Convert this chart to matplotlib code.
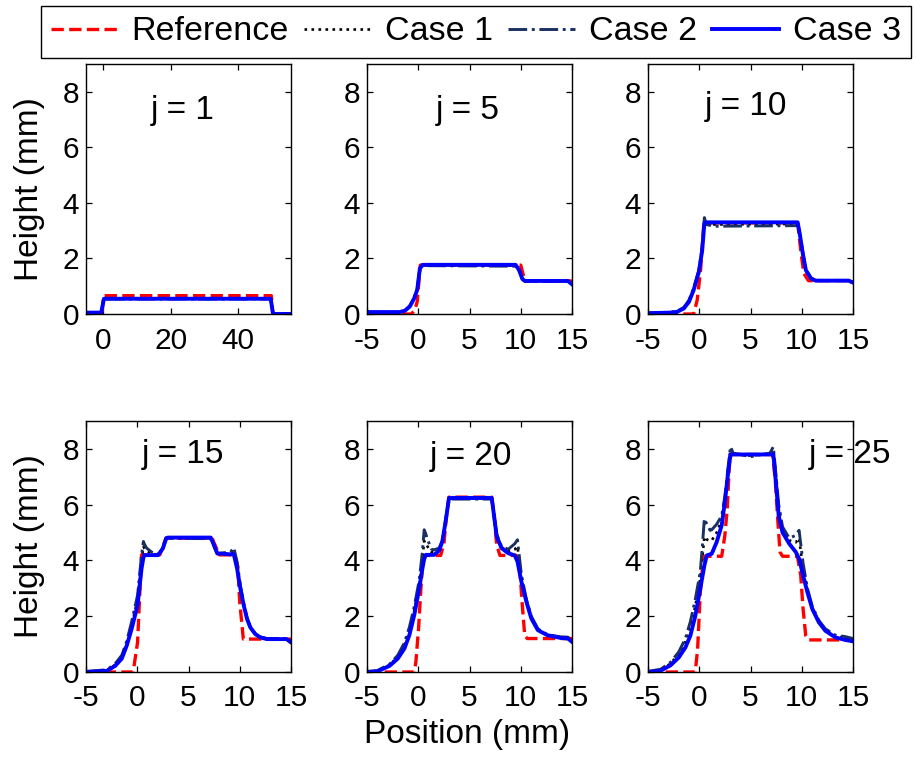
import matplotlib
matplotlib.use("Agg")
import matplotlib.pyplot as plt
from matplotlib.lines import Line2D

plt.rcParams['font.family'] = ['Liberation Sans', 'DejaVu Sans']
plt.rcParams['axes.unicode_minus'] = False

# ---- data: layer height profiles (mm) vs position (mm) ----
series_names = ["Reference", "Case 1", "Case 2", "Case 3"]
layer_labels = ["j = 1", "j = 5", "j = 10", "j = 15", "j = 20", "j = 25"]

# j = 1
j1_ref_x = [-5, -0.3, 0.2, 49.8, 50.2, 55.5]
j1_ref_y = [0.0, 0.0, 0.66, 0.66, 0.0, 0.0]
j1_case_x = [-5, -0.5, 0.3, 49.6, 50.3, 55.5]
j1_c1_y = [0.05, 0.05, 0.55, 0.55, 0.0, 0.0]
j1_c2_y = [0.05, 0.05, 0.54, 0.54, 0.0, 0.0]
j1_c3_y = [0.05, 0.05, 0.55, 0.55, 0.0, 0.0]

# j = 5
j5_ref_x = [-5, -0.66, -0.33, -0.1, 0.2, 10.0, 10.4, 15]
j5_ref_y = [0, 0, 0.15, 0.45, 1.76, 1.76, 1.19, 1.19]
j5_case_x = [-5, -1.8, -1.3, -0.82, -0.39, -0.1, 0.16, 0.43, 9.5, 9.84, 10.16, 10.4, 14.6, 15]
j5_c1_y = [0.06, 0.06, 0.12, 0.28, 0.58, 0.88, 1.65, 1.76, 1.74, 1.57, 1.26, 1.19, 1.19, 1.08]
j5_c2_y = [0.06, 0.06, 0.12, 0.30, 0.60, 0.90, 1.66, 1.74, 1.72, 1.56, 1.25, 1.18, 1.18, 1.08]
j5_c3_y = [0.07, 0.07, 0.12, 0.27, 0.57, 0.87, 1.64, 1.77, 1.77, 1.58, 1.26, 1.19, 1.19, 1.07]

# j = 10
j10_ref_x = [-5, -0.55, -0.2, 0.13, 0.45, 9.6, 9.9, 10.2, 10.65, 15]
j10_ref_y = [0, 0, 0.5, 1.58, 3.28, 3.28, 2.3, 1.46, 1.2, 1.2]
j10_case_x = [-5, -2.8, -2.15, -1.5, -1.0, -0.55, -0.03, 0.29, 0.5, 0.7, 1.5, 9.4, 9.6, 9.8,
              10.1, 10.4, 10.9, 11.35, 14.57, 15]
j10_c1_y = [0.03, 0.05, 0.09, 0.22, 0.47, 0.89, 1.56, 2.35, 3.40, 3.27, 3.22, 3.24, 3.26, 2.92,
            2.20, 1.59, 1.29, 1.20, 1.20, 1.13]
j10_c2_y = [0.03, 0.06, 0.10, 0.24, 0.50, 0.92, 1.60, 2.40, 3.47, 3.22, 3.16, 3.18, 3.22, 2.95,
            2.22, 1.60, 1.30, 1.21, 1.21, 1.14]
j10_c3_y = [0.03, 0.05, 0.08, 0.20, 0.44, 0.86, 1.52, 2.30, 3.26, 3.30, 3.30, 3.30, 3.30, 2.90,
            2.18, 1.58, 1.28, 1.20, 1.20, 1.13]

# j = 15
j15_ref_x = [-5, -0.4, 0.03, 0.42, 2.2, 2.8, 7.3, 8.0, 9.5, 9.8, 10.0, 10.35, 15]
j15_ref_y = [0, 0, 1.06, 4.2, 4.2, 4.8, 4.8, 4.2, 4.2, 3.8, 2.5, 1.18, 1.18]
j15_case_x = [-5, -2.96, -2.15, -1.51, -1.03, -0.55, 0.03, 0.42, 0.6, 0.68, 0.9, 1.4, 2.03, 2.5,
              2.83, 3.0, 7.17, 7.49, 7.81, 9.1, 9.42, 9.74, 10.06, 10.39, 10.71, 11.03, 11.51,
              12.0, 12.64, 14.57, 15]
j15_c1_y = [0.01, 0.06, 0.26, 0.55, 1.02, 1.68, 2.6, 4.0, 4.5, 4.45, 4.35, 4.25, 4.2, 4.44, 4.79,
            4.81, 4.8, 4.52, 4.24, 4.26, 4.35, 3.85, 3.05, 2.42, 1.92, 1.61, 1.37, 1.25, 1.19,
            1.19, 1.08]
j15_c2_y = [0.02, 0.08, 0.3, 0.6, 1.1, 1.8, 2.75, 4.2, 4.68, 4.6, 4.45, 4.3, 4.22, 4.45, 4.78,
            4.8, 4.78, 4.5, 4.25, 4.3, 4.46, 3.95, 3.1, 2.45, 1.95, 1.62, 1.38, 1.26, 1.2, 1.2, 1.1]
j15_c3_y = [0.0, 0.04, 0.22, 0.48, 0.94, 1.54, 2.39, 3.71, 4.1, 4.19, 4.19, 4.19, 4.19, 4.43, 4.8,
            4.82, 4.82, 4.55, 4.25, 4.22, 4.22, 3.71, 2.99, 2.39, 1.9, 1.6, 1.36, 1.24, 1.18,
            1.18, 1.06]

# j = 20
j20_ref_x = [-5, -0.39, -0.23, 0.03, 0.26, 0.48, 2.19, 2.51, 2.73, 2.99, 7.17, 7.43, 7.65, 7.97,
             9.58, 9.9, 10.13, 10.39, 10.64, 15]
j20_ref_y = [0, 0, 0.36, 1.56, 3.0, 4.18, 4.18, 4.62, 5.5, 6.27, 6.27, 5.5, 4.56, 4.18, 4.18, 3.7,
             2.5, 1.3, 1.2, 1.2]
j20_case_x = [-5, -4.0, -2.8, -2.0, -1.35, -0.87, -0.39, 0.1, 0.4, 0.58, 0.74, 0.9, 1.3, 1.54,
              2.03, 2.35, 2.67, 3.0, 7.17, 7.43, 7.65, 8.13, 8.78, 9.42, 9.68, 10.06, 10.55,
              11.03, 11.67, 12.6, 13.9, 14.6, 15]
j20_c1_y = [0.01, 0.04, 0.25, 0.55, 0.95, 1.48, 2.2, 3.15, 4.05, 4.7, 4.6, 4.5, 4.3, 4.3, 4.4,
            4.69, 5.42, 6.22, 6.22, 5.52, 4.9, 4.47, 4.33, 4.4, 4.5, 3.4, 2.56, 1.96, 1.52, 1.33,
            1.24, 1.22, 1.1]
j20_c2_y = [0.02, 0.05, 0.28, 0.6, 1.05, 1.6, 2.35, 3.3, 4.3, 5.1, 4.95, 4.75, 4.4, 4.38, 4.44,
            4.7, 5.45, 6.2, 6.2, 5.55, 4.95, 4.5, 4.4, 4.6, 4.74, 3.5, 2.6, 2.0, 1.55, 1.34, 1.26,
            1.25, 1.12]
j20_c3_y = [0.0, 0.02, 0.22, 0.48, 0.84, 1.32, 2.04, 3.0, 3.7, 4.05, 4.2, 4.2, 4.2, 4.2, 4.35,
            4.68, 5.4, 6.24, 6.24, 5.5, 4.86, 4.44, 4.26, 4.18, 3.96, 3.24, 2.52, 1.92, 1.5,
            1.32, 1.22, 1.2, 1.08]

# j = 25
j25_ref_x = [-5, -0.39, -0.16, 0.1, 0.42, 2.19, 2.5, 2.73, 2.99, 7.17, 7.43, 7.65, 7.88, 8.13,
             9.58, 9.9, 10.13, 10.39, 10.64, 15]
j25_ref_y = [0, 0, 0.82, 2.86, 4.15, 4.15, 4.9, 5.86, 7.8, 7.8, 6.82, 5.5, 4.3, 4.15, 4.15, 3.46,
             2.26, 1.3, 1.15, 1.15]
j25_case_x = [-5, -3.76, -2.8, -2.0, -1.35, -0.87, -0.39, 0.1, 0.3, 0.5, 0.74, 1.06, 1.22, 1.7,
              2.19, 2.5, 2.83, 3.05, 3.3, 5.0, 6.9, 7.23, 7.5, 7.75, 8.13, 8.78, 9.42, 9.74,
              10.13, 10.55, 11.03, 11.67, 12.3, 13.28, 14.24, 15]
j25_c1_y = [0.01, 0.08, 0.3, 0.65, 1.08, 1.6, 2.35, 3.35, 4.1, 4.85, 4.75, 4.7, 4.72, 5.0, 5.45,
            6.2, 7.3, 7.95, 7.82, 7.76, 7.82, 7.95, 6.9, 5.85, 5.12, 4.72, 4.65, 4.8, 3.7, 2.95,
            2.3, 1.82, 1.52, 1.3, 1.22, 1.16]
j25_c2_y = [0.02, 0.1, 0.35, 0.72, 1.2, 1.8, 2.6, 3.6, 4.5, 5.5, 5.3, 5.08, 5.1, 5.3, 5.6, 6.3,
            7.4, 8.08, 7.85, 7.72, 7.85, 8.08, 7.0, 6.0, 5.2, 4.8, 4.9, 5.08, 3.9, 3.0, 2.35, 1.85,
            1.55, 1.32, 1.27, 1.2]
j25_c3_y = [0.0, 0.05, 0.24, 0.52, 0.88, 1.3, 2.0, 2.98, 3.4, 3.82, 4.18, 4.22, 4.24, 4.66, 5.26,
            6.1, 7.18, 7.8, 7.8, 7.8, 7.8, 7.8, 6.7, 5.6, 5.0, 4.6, 4.3, 4.06, 3.46, 2.86, 2.26,
            1.78, 1.48, 1.24, 1.15, 1.1]

panels = [
    (j1_ref_x, j1_ref_y, j1_case_x, j1_c1_y, j1_c2_y, j1_c3_y),
    (j5_ref_x, j5_ref_y, j5_case_x, j5_c1_y, j5_c2_y, j5_c3_y),
    (j10_ref_x, j10_ref_y, j10_case_x, j10_c1_y, j10_c2_y, j10_c3_y),
    (j15_ref_x, j15_ref_y, j15_case_x, j15_c1_y, j15_c2_y, j15_c3_y),
    (j20_ref_x, j20_ref_y, j20_case_x, j20_c1_y, j20_c2_y, j20_c3_y),
    (j25_ref_x, j25_ref_y, j25_case_x, j25_c1_y, j25_c2_y, j25_c3_y),
]

# ---- styling ----
styles = [
    dict(color='#FF0000', ls='--', lw=2.4),
    dict(color='#000000', ls=':', lw=1.9),
    dict(color='#1A3060', ls='-.', lw=2.1),
    dict(color='#0000FF', ls='-', lw=2.8),
]
TICK_FS = 21.5
TEXT_FS = 24
LEGEND_FS = 24.5

W, H = 916, 757
fig = plt.figure(figsize=(W / 100, H / 100), dpi=100)

col_left = [86, 367, 648]
ax_w = 205
row_top = [64, 421]
ax_h = [250, 251]
label_pos = [(0.47, 0.815), (0.49, 0.815), (0.48, 0.83),
             (0.475, 0.865), (0.505, 0.857), (0.985, 0.865)]

axes = []
for i, data in enumerate(panels):
    r, c = divmod(i, 3)
    left = col_left[c] / W
    bottom = 1 - (row_top[r] + ax_h[r]) / H
    ax = fig.add_axes([left, bottom, ax_w / W, ax_h[r] / H])
    axes.append(ax)
    ref_x, ref_y, case_x, c1_y, c2_y, c3_y = data
    ax.plot(ref_x, ref_y, **styles[0])
    ax.plot(case_x, c1_y, **styles[1])
    ax.plot(case_x, c2_y, **styles[2])
    ax.plot(case_x, c3_y, **styles[3])

    ax.set_ylim(0, 9)
    ax.set_yticks([0, 2, 4, 6, 8])
    if i == 0:
        ax.set_xlim(-5, 55.6)
        ax.set_xticks([0, 20, 40])
    else:
        ax.set_xlim(-5, 15)
        ax.set_xticks([-5, 0, 5, 10, 15])
    ax.tick_params(direction='in', top=True, right=True, length=4, width=0.9,
                   labelsize=TICK_FS, colors='black')
    ax.tick_params(axis='x', pad=9)
    ax.tick_params(axis='y', pad=5)
    for s in ax.spines.values():
        s.set_linewidth(1.0)
    ax.text(label_pos[i][0], label_pos[i][1], layer_labels[i], transform=ax.transAxes,
            ha='center', va='center', fontsize=TEXT_FS, clip_on=False)
    if c == 0:
        ax.set_ylabel("Height (mm)", fontsize=TEXT_FS)
        ax.yaxis.set_label_coords(-0.20, 0.5)

fig.text(467 / W, 1 - 735 / H, "Position (mm)", ha='center', va='center', fontsize=TEXT_FS)

handles = [Line2D([], [], **st) for st in styles]
leg = fig.legend(handles, series_names, loc='center', bbox_to_anchor=(476 / W, 1 - 32 / H),
                 ncol=4, fontsize=LEGEND_FS, handlelength=1.97, handletextpad=0.4,
                 columnspacing=0.45, borderpad=0.3, borderaxespad=0, frameon=True,
                 fancybox=False, edgecolor='black', framealpha=1)
leg.get_frame().set_linewidth(1.0)

fig.savefig("out.png", dpi=100)
